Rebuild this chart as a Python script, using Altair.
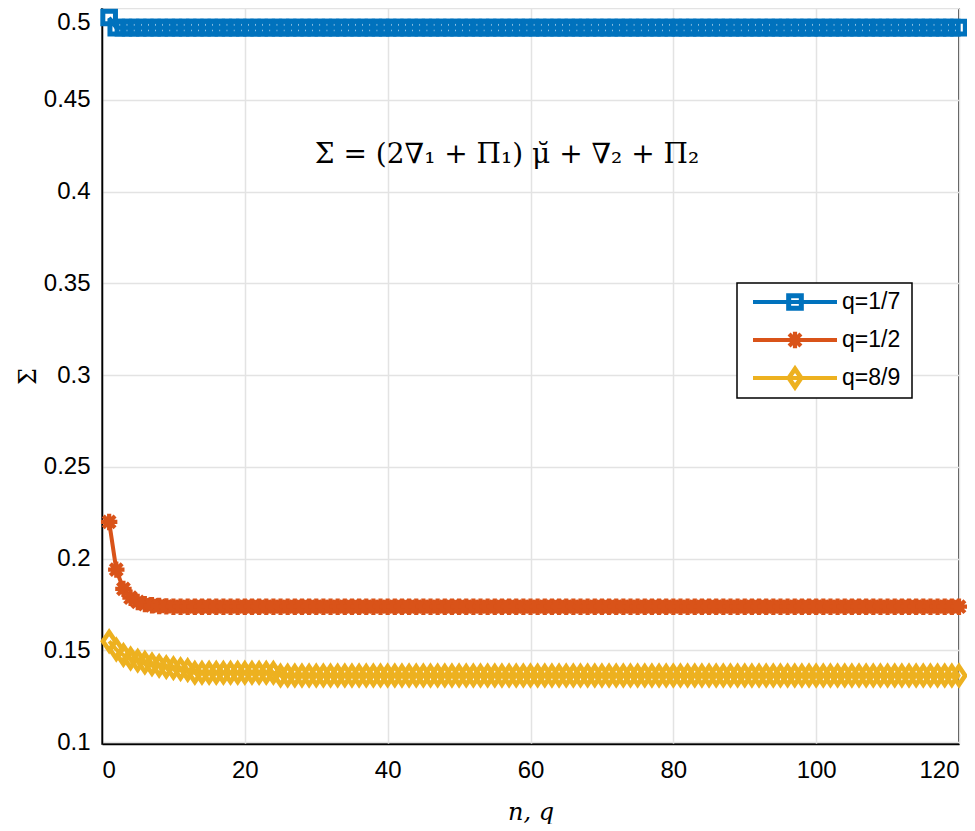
import altair as alt
import pandas as pd

# ---------------- data ----------------
n_vals = list(range(1, 121))

blue_head = [0.4948]
blue_tail_value = 0.4893
q17 = blue_head + [blue_tail_value] * (120 - len(blue_head))

orange_head = [0.2200, 0.1940, 0.1835, 0.1787, 0.1764, 0.1752, 0.1746, 0.1742, 0.1740]
orange_tail_value = 0.1738
q12 = orange_head + [orange_tail_value] * (120 - len(orange_head))

yellow_head = [0.1550, 0.1505, 0.1475, 0.1456, 0.1444, 0.1433, 0.1424, 0.1416,
               0.1409, 0.1403, 0.1398, 0.1393]
yellow_mid = [0.1378] * 12          # n = 13 .. 24
yellow_tail_value = 0.1363          # n = 25 .. 120
q89 = yellow_head + yellow_mid + [yellow_tail_value] * (120 - len(yellow_head) - len(yellow_mid))

series_names = ["q=1/7", "q=1/2", "q=8/9"]
series_values = [q17, q12, q89]
series_colors = ["#0072BD", "#D95319", "#EDB120"]

x_ticks = [0, 20, 40, 60, 80, 100, 120]
y_ticks = [0.1, 0.15, 0.2, 0.25, 0.3, 0.35, 0.4, 0.45, 0.5]

formula = "Σ = (2∇₁ + Π₁) μ̆ + ∇₂ + Π₂"

# ---------------- styling ----------------
SQUARE = "M-1,-1H1V1H-1Z"
ASTERISK = "M-1,0H1M0,-1V1M-0.72,-0.72L0.72,0.72M-0.72,0.72L0.72,-0.72"
DIAMOND = "M0,-1L0.68,0L0,1L-0.68,0Z"
marker_shapes = [SQUARE, ASTERISK, DIAMOND]
marker_sizes = [160, 270, 330]
marker_strokes = [5.0, 4.2, 4.6]
LINE_W = 4

W, H = 857, 736

x_enc = alt.X("n:Q", scale=alt.Scale(domain=[0, 120], nice=False, zero=False),
              axis=alt.Axis(values=x_ticks, title="n,  q", labelPadding=14,
                            titlePadding=18, titleFont="DejaVu Serif",
                            titleFontStyle="italic", titleFontSize=24,
                            titleFontWeight="normal"))
y_enc = alt.Y("v:Q", scale=alt.Scale(domain=[0.099, 0.5], nice=False, zero=False),
              axis=alt.Axis(values=y_ticks, format=".2~f", title="Σ", labelPadding=12,
                            labelFlush=True, labelFlushOffset=-2,
                            titlePadding=3, titleFont="DejaVu Serif", titleFontSize=24,
                            titleFontWeight="normal"))

layers = []
for name, vals, col, shp, sz, sw in zip(series_names, series_values, series_colors,
                                         marker_shapes, marker_sizes, marker_strokes):
    df = pd.DataFrame({"n": n_vals, "v": vals, "series": name})
    base = alt.Chart(df)
    layers.append(base.mark_line(color=col, strokeWidth=LINE_W).encode(x=x_enc, y=y_enc))
    layers.append(base.mark_point(shape=shp, size=sz, color=col, filled=False,
                                  strokeWidth=sw, opacity=1).encode(x=x_enc, y=y_enc))

# formula annotation
ann_df = pd.DataFrame({"t": [formula]})
layers.append(alt.Chart(ann_df).mark_text(font="DejaVu Serif", fontSize=28,
                                          align="center", baseline="middle",
                                          color="black")
              .encode(x=alt.value(405), y=alt.value(147), text="t:N"))

# manual legend (line + marker, like the reference)
box_df = pd.DataFrame({"a": [0]})
layers.append(alt.Chart(box_df).mark_rect(fill="white", stroke="black", strokeWidth=1.5)
              .encode(x=alt.value(635), x2=alt.value(810), y=alt.value(275), y2=alt.value(390)))
legend_rows = [294, 332, 370]
for name, col, shp, sz, sw, yy in zip(series_names, series_colors, marker_shapes,
                                      marker_sizes, marker_strokes, legend_rows):
    ldf = pd.DataFrame({"label": [name]})
    lb = alt.Chart(ldf)
    layers.append(lb.mark_rule(color=col, strokeWidth=LINE_W)
                  .encode(x=alt.value(651), x2=alt.value(735), y=alt.value(yy)))
    layers.append(lb.mark_point(shape=shp, size=sz, color=col, filled=False,
                                strokeWidth=sw, opacity=1)
                  .encode(x=alt.value(693), y=alt.value(yy)))
    layers.append(lb.mark_text(align="left", baseline="middle", font="Liberation Sans",
                               fontSize=23, color="black")
                  .encode(x=alt.value(740), y=alt.value(yy), text="label:N"))

chart = alt.layer(*layers).properties(
    width=W, height=H,
    autosize=alt.AutoSizeParams(type="none"),
    padding={"left": 94, "top": 0, "right": 8, "bottom": 80},
).configure_view(
    stroke="black", strokeWidth=1.5
).configure_axis(
    labelFont="Liberation Sans", labelFontSize=24, labelColor="black",
    domainColor="black", domainWidth=1.5, ticks=False,
    gridColor="#e3e3e3", gridWidth=1.5, gridOpacity=1,
    titleColor="black",
)

chart.save("out.html", embed_options={"renderer": "svg", "actions": False})
